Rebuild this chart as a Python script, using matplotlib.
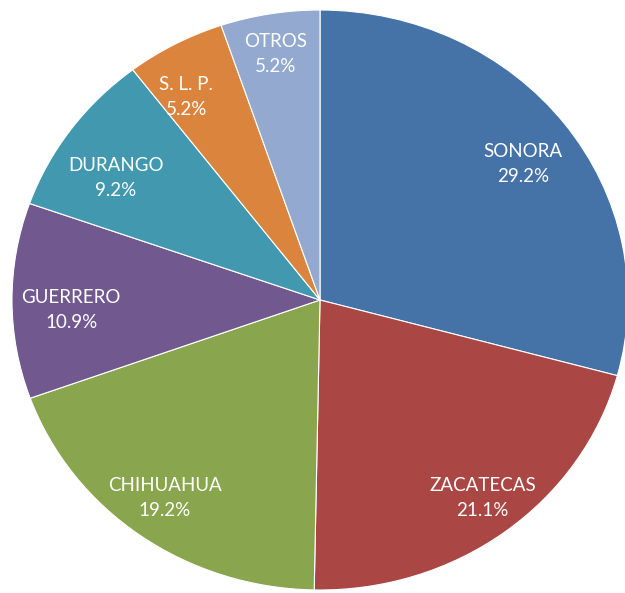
import matplotlib
matplotlib.use("Agg")
import matplotlib.pyplot as plt
import numpy as np

states = ["SONORA", "ZACATECAS", "CHIHUAHUA", "GUERRERO", "DURANGO", "S. L. P.", "OTROS"]
shares = [29.2, 21.1, 19.2, 10.9, 9.2, 5.2, 5.2]
colors = ["#4572A7", "#AA4643", "#89A54E", "#71588F", "#4198AF", "#DB843D", "#93A9CF"]
# label placement (radius as fraction of pie radius, angle tweak in degrees)
label_radius = [0.813, 0.858, 0.843, 0.808, 0.789, 0.830, 0.867]
label_dang = [-1.7, 1.1, -1.0, 1.8, 3.2, 3.5, 0.3]

W, H = 625, 593
fig = plt.figure(figsize=(W / 100, H / 100), dpi=100)
ax = fig.add_axes([0, 0, 1, 1])

wedges, _ = ax.pie(
    shares, colors=colors, startangle=90, counterclock=False,
    wedgeprops=dict(edgecolor="white", linewidth=0.8),
)
for w, s, v, r, da in zip(wedges, states, shares, label_radius, label_dang):
    ang = np.deg2rad((w.theta1 + w.theta2) / 2 + da)
    ax.text(r * np.cos(ang), r * np.sin(ang) - 0.007, f"{s}\n{v:.1f}%",
            color="white", fontsize=13.5, family="Lato", linespacing=1.56,
            ha="center", va="center")

cx, cy, rx, ry = 320, 300, 308, 290
ax.set_aspect("auto")
ax.set_xlim(-cx / rx, (W - cx) / rx)
ax.set_ylim(-(H - cy) / ry, cy / ry)
ax.axis("off")

fig.savefig("out.png", dpi=100)
